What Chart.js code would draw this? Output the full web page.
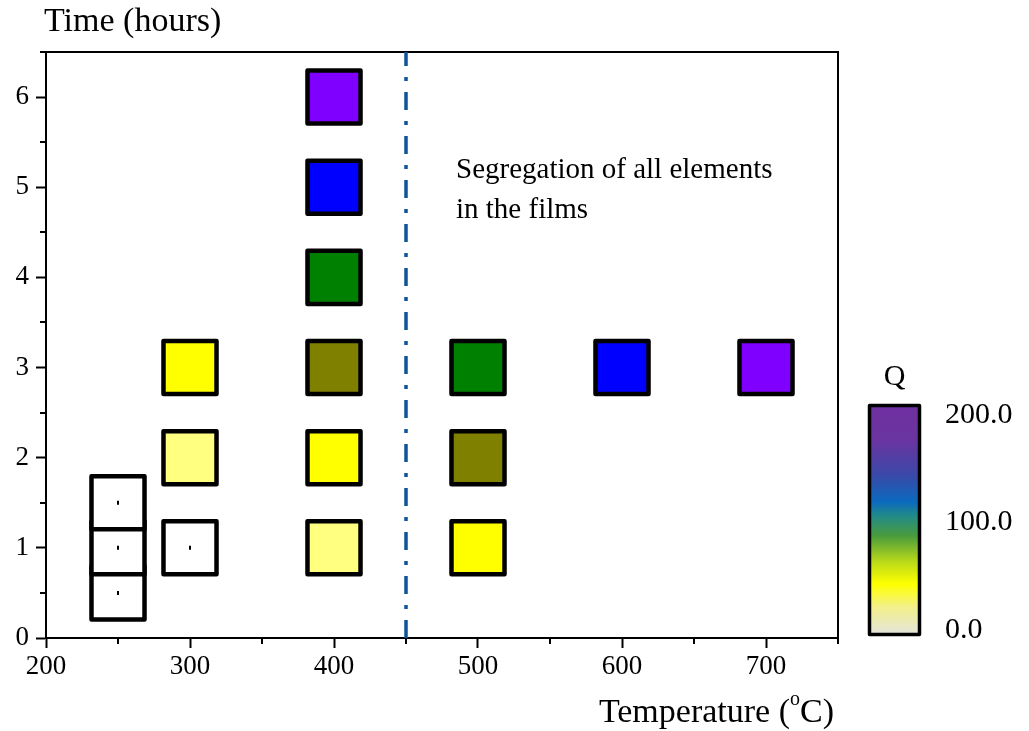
<!DOCTYPE html>
<html>
<head>
<meta charset="utf-8">
<title>Annealing map</title>
<script src="https://cdn.jsdelivr.net/npm/chart.js@4/dist/chart.umd.min.js"></script>
<style>
  body { margin: 0; background: #fff; }
  #wrap { width: 1029px; height: 731px; }
</style>
</head>
<body>
<div id="wrap"><canvas id="anneal_chart" width="1029" height="731"></canvas></div>
<script>
// annealing runs: temperature (°C), time (h), Q
const tempC = [250, 250, 250, 300, 300, 300, 400, 400, 400, 400, 400, 400, 500, 500, 500, 600, 700];
const timeH = [0.5, 1, 1.5, 1, 2, 3, 1, 2, 3, 4, 5, 6, 1, 2, 3, 3, 3];
const qValue = [0, 0, 0, 0, 25, 50, 25, 50, 75, 100, 150, 200, 50, 75, 100, 150, 200];

// discrete Q levels used to fill the squares
const qLevels = [0, 25, 50, 75, 100, 150, 200];
const levelFill = ['#ffffff', '#ffff80', '#ffff00', '#808000', '#008000', '#0000ff', '#8000ff'];

const boundaryC = 450;
const xTicks = [200, 300, 400, 500, 600, 700];
const yTicks = [0, 1, 2, 3, 4, 5, 6];
const qTicks = [0, 100, 200];
const annotation = ['Segregation of all elements', 'in the films'];

const SERIF = '"Liberation Serif", "Times New Roman", serif';

const fillFor = q => levelFill[qLevels.indexOf(q)];
const runs = tempC.map((t, i) => ({ x: t, y: timeH[i] }));
const blankRuns = runs.filter((_, i) => qValue[i] === 0);

const frameAndExtras = {
  id: 'frameAndExtras',
  beforeDatasetsDraw(chart) {
    const { ctx, chartArea: a, scales: { x, y } } = chart;
    ctx.save();
    ctx.strokeStyle = '#000';
    ctx.lineWidth = 2;
    // top and right edges of the frame
    ctx.beginPath();
    ctx.moveTo(a.left, a.top);
    ctx.lineTo(a.right, a.top);
    ctx.lineTo(a.right, a.bottom);
    ctx.stroke();
    // minor ticks, half step
    ctx.beginPath();
    for (let v = 250; v <= 750; v += 100) {
      const px = Math.round(x.getPixelForValue(v));
      ctx.moveTo(px, a.bottom);
      ctx.lineTo(px, a.bottom + 6);
    }
    for (let v = 0.5; v <= 6.5; v += 1) {
      const py = Math.round(y.getPixelForValue(v));
      ctx.moveTo(a.left, py);
      ctx.lineTo(a.left - 6, py);
    }
    ctx.stroke();
    ctx.restore();
  },
  beforeDatasetDraw(chart) {
    // softer corners on the square markers
    chart.ctx.lineJoin = 'round';
  },
  afterDraw(chart) {
    const { ctx, chartArea: a, scales: { x } } = chart;
    ctx.save();
    ctx.fillStyle = '#000';
    ctx.textBaseline = 'middle';

    // axis titles
    ctx.font = '34px ' + SERIF;
    ctx.textAlign = 'left';
    ctx.fillText('Time (hours)', 44, 22);

    const tRight = a.right - 4;
    const tY = 713;
    ctx.font = '34px ' + SERIF;
    const w1 = ctx.measureText('Temperature (').width;
    const w3 = ctx.measureText('C)').width;
    ctx.font = '20px ' + SERIF;
    const w2 = ctx.measureText('o').width;
    let cx = tRight - w1 - w2 - w3;
    ctx.font = '34px ' + SERIF;
    ctx.fillText('Temperature (', cx, tY);
    cx += w1;
    ctx.font = '20px ' + SERIF;
    ctx.fillText('o', cx, tY - 13);
    cx += w2;
    ctx.font = '34px ' + SERIF;
    ctx.fillText('C)', cx, tY);

    // annotation right of the boundary
    ctx.font = '29px ' + SERIF;
    const ax = x.getPixelForValue(boundaryC) + 50;
    annotation.forEach((line, i) => ctx.fillText(line, ax, 170 + i * 40));

    // colour bar for Q
    const cb = { left: 869.5, top: 405.5, width: 50, height: 229 };
    const grad = ctx.createLinearGradient(0, cb.top + cb.height, 0, cb.top);
    grad.addColorStop(0.0, '#e4e4dc');
    grad.addColorStop(0.12, '#f2f08a');
    grad.addColorStop(0.22, '#ffff00');
    grad.addColorStop(0.32, '#b8d81a');
    grad.addColorStop(0.43, '#4a9c3c');
    grad.addColorStop(0.52, '#208a8a');
    grad.addColorStop(0.58, '#0a6abe');
    grad.addColorStop(0.70, '#3c48a8');
    grad.addColorStop(0.85, '#6a34a0');
    grad.addColorStop(1.0, '#7030a0');
    ctx.fillStyle = grad;
    ctx.fillRect(cb.left, cb.top, cb.width, cb.height);
    ctx.lineWidth = 3.5;
    ctx.lineJoin = 'round';
    ctx.strokeStyle = '#000';
    ctx.strokeRect(cb.left, cb.top, cb.width, cb.height);

    ctx.fillStyle = '#000';
    ctx.font = '30px ' + SERIF;
    ctx.textAlign = 'center';
    ctx.fillText('Q', cb.left + cb.width / 2, 377);
    ctx.textAlign = 'left';
    const qMax = qTicks[qTicks.length - 1];
    qTicks.forEach(q => {
      const py = 630 - (q / qMax) * 215;
      ctx.fillText(q.toFixed(1), 945, py);
    });
    ctx.restore();
  },
};

new Chart(document.getElementById('anneal_chart'), {
  type: 'scatter',
  data: {
    datasets: [
      {
        label: 'boundary',
        type: 'line',
        data: [{ x: boundaryC, y: 0 }, { x: boundaryC, y: 6.5 }],
        borderColor: '#0f5499',
        borderWidth: 3.5,
        borderDash: [18, 11, 4, 11],
        borderJoinStyle: 'miter',
        pointRadius: 0,
        order: 3,
      },
      {
        label: 'runs',
        data: runs,
        pointStyle: 'rect',
        pointRadius: 37.5,
        pointBorderWidth: 4.5,
        pointBorderColor: '#000',
        pointBackgroundColor: qValue.map(fillFor),
        clip: false,
        order: 2,
      },
      {
        label: 'blank',
        data: blankRuns,
        pointStyle: 'line',
        rotation: 90,
        pointRadius: 2,
        pointBorderWidth: 2,
        pointBorderColor: '#000',
        order: 1,
      },
    ],
  },
  options: {
    responsive: false,
    animation: false,
    events: [],
    layout: { padding: { left: 0, top: 52, right: 191, bottom: 0 } },
    plugins: { legend: { display: false }, tooltip: { enabled: false } },
    scales: {
      x: {
        type: 'linear',
        min: 200,
        max: 750,
        afterFit: s => { s.height = 93; },
        afterBuildTicks: s => { s.ticks = xTicks.map(value => ({ value })); },
        border: { color: '#000', width: 2 },
        grid: { drawOnChartArea: false, tickLength: 10, tickColor: '#000', tickWidth: 2 },
        ticks: { color: '#000', padding: 3, font: { family: SERIF, size: 27 } },
      },
      y: {
        type: 'linear',
        min: 0,
        max: 6.5,
        afterFit: s => { s.width = 46; },
        afterBuildTicks: s => { s.ticks = yTicks.map(value => ({ value })); },
        border: { color: '#000', width: 2 },
        grid: { drawOnChartArea: false, tickLength: 10, tickColor: '#000', tickWidth: 2 },
        ticks: { color: '#000', padding: 7, font: { family: SERIF, size: 27 } },
      },
    },
  },
  plugins: [frameAndExtras],
});
</script>
</body>
</html>
